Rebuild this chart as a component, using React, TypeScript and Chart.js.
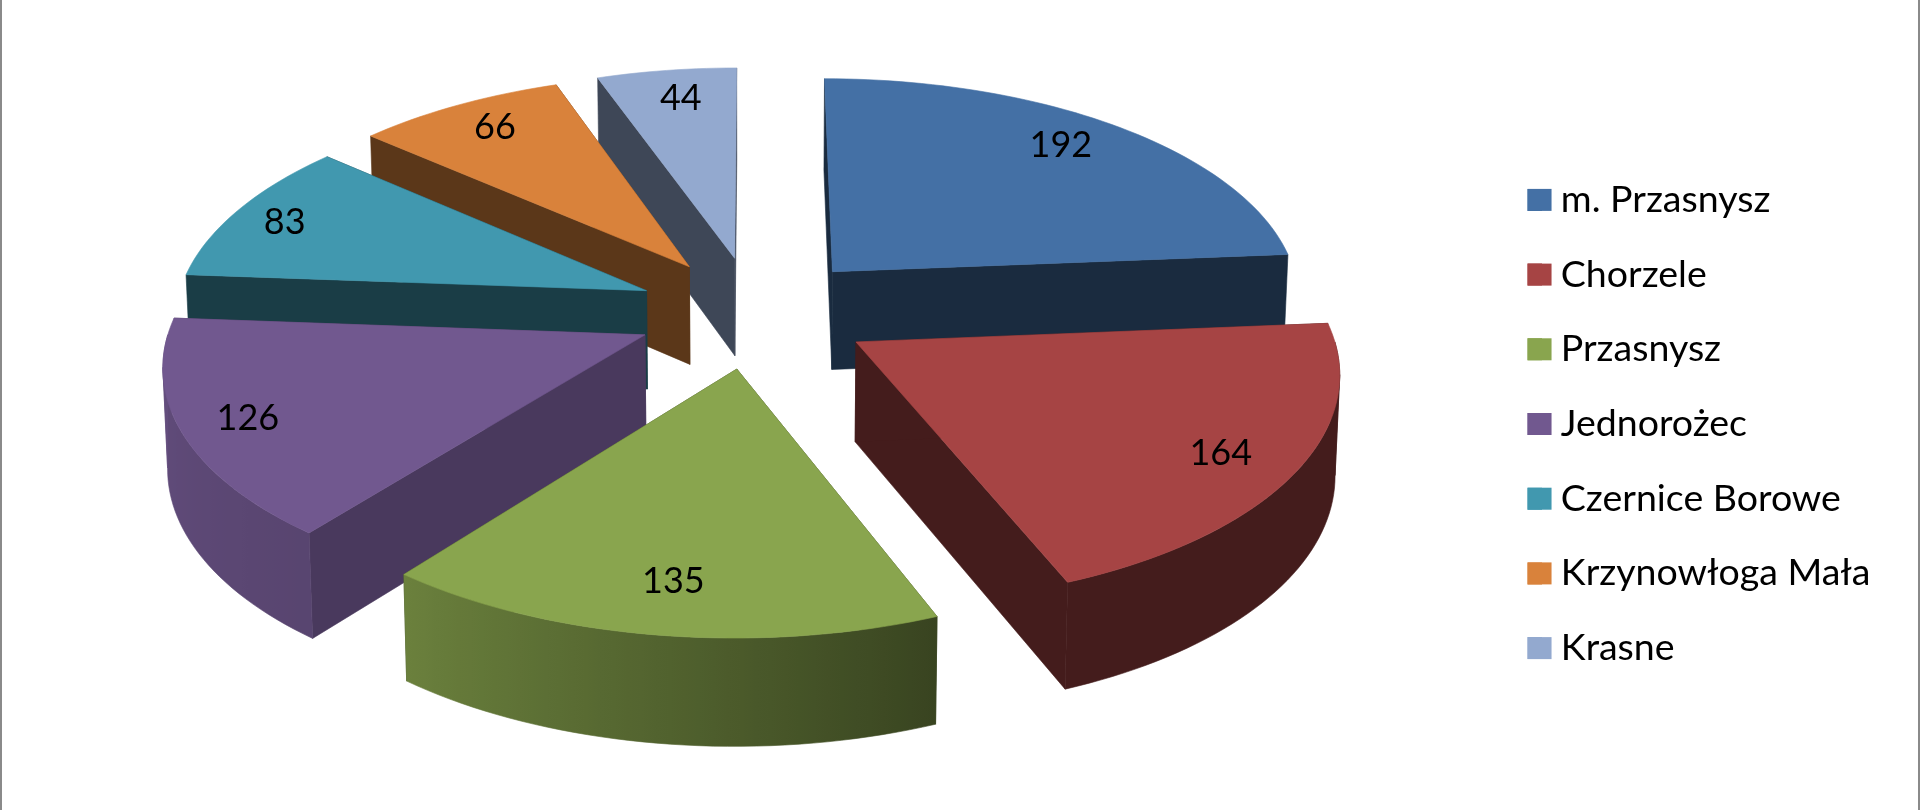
import React, { useEffect, useRef } from "react";
import { Chart, registerables } from "chart.js";

Chart.register(...registerables);

const categories = ["m. Przasnysz", "Chorzele", "Przasnysz", "Jednorożec", "Czernice Borowe", "Krzynowłoga Mała", "Krasne"];
const values = [192, 164, 135, 126, 83, 66, 44];
const colors = ["#4470A5", "#A64444", "#89A54E", "#71588F", "#4198AF", "#D9823B", "#93A9CF"];
const wallShades = [0.38, 0.41, 0.41, 0.65, 0.4, 0.42, 0.42];

const FONT = "Lato";
const LEGEND_SIZE = 37.5;
const LABEL_SIZE = 36;

const VIEW = { offX: 9, offY: -112, rx: 1.222, ry: 0.58, depth: 99, k: 0.115, explode: 0.25, labelR: 0.85 };
const SHADE_STOPS = [[0, 0.41], [85, 0.41], [158, 0.41], [188, 0.6], [218, 0.78], [274, 0.88], [360, 0.6]];
const LABEL_NUDGE = [[-15, -1], [-6, 2], [4, -9], [-6, 2], [-13, 1], [5, 0], [5, 2]];
const SILHOUETTE = 0.14;
const SWATCH = { width: 24, height: 22 };

function shadeAt(deg: number) {
  for (let i = 1; i < SHADE_STOPS.length; i++) {
    const [a0, s0] = SHADE_STOPS[i - 1];
    const [a1, s1] = SHADE_STOPS[i];
    if (deg <= a1) return s0 + ((deg - a0) / (a1 - a0)) * (s1 - s0);
  }
  return 0.5;
}

function darken(hex: string, f: number) {
  const n = parseInt(hex.slice(1), 16);
  const r = Math.round(((n >> 16) & 255) * f);
  const g = Math.round(((n >> 8) & 255) * f);
  const b = Math.round((n & 255) * f);
  return `rgb(${r},${g},${b})`;
}

const pie3d = {
  id: "pie3d",
  beforeDatasetsDraw(chart: any) {
    const ctx = chart.ctx as CanvasRenderingContext2D;
    const arcs = chart.getDatasetMeta(0).data as any[];
    const order = arcs.map((_, i) => i).sort((a, b) => {
      const ma = (arcs[a].startAngle + arcs[a].endAngle) / 2;
      const mb = (arcs[b].startAngle + arcs[b].endAngle) / 2;
      return Math.sin(ma) - Math.sin(mb);
    });

    const fillPoly = (pts: number[][], color: any) => {
      ctx.beginPath();
      pts.forEach(([x, y], i) => (i ? ctx.lineTo(x, y) : ctx.moveTo(x, y)));
      ctx.closePath();
      ctx.fillStyle = color;
      ctx.strokeStyle = color;
      ctx.lineWidth = 0.6;
      ctx.fill();
      ctx.stroke();
    };

    ctx.save();
    for (const i of order) {
      const el = arcs[i];
      const R = el.outerRadius;
      const cx = el.x + VIEW.offX;
      const cy = el.y + VIEW.offY;
      const mid = (el.startAngle + el.endAngle) / 2;
      const ou = Math.cos(mid) * VIEW.explode;
      const ov = Math.sin(mid) * VIEW.explode;
      const project = (r: number, a: number, z: number) => {
        const u = ou + r * Math.cos(a);
        const v = ov + r * Math.sin(a);
        const w = 1 - VIEW.k * v;
        return [
          cx + ((R * VIEW.rx * u) / w) * (1 - 0.008 * z),
          cy + (R * VIEW.ry * v) / w + (VIEW.depth * z) / (1 - 0.6 * VIEW.k * v),
        ];
      };
      const sweep = (from: number, to: number) => {
        const steps = Math.max(8, Math.ceil((((to - from) * 180) / Math.PI) / 1.5));
        const list: number[] = [];
        for (let s = 0; s <= steps; s++) list.push(from + ((to - from) * s) / steps);
        return list;
      };

      const wall = darken(colors[i], wallShades[i]);
      for (const a of [el.endAngle, el.startAngle]) {
        fillPoly([project(0, a, 0), project(1, a, 0), project(1, a, 1), project(0, a, 1)], wall);
      }

      const from = Math.max(el.startAngle, 0);
      const to = Math.min(el.endAngle, Math.PI);
      if (to > from) {
        const front = sweep(from, to);
        const x0 = project(1, from, 0)[0];
        const x1 = project(1, to, 0)[0];
        const grad = ctx.createLinearGradient(x0, 0, x1, 0);
        front.forEach((a) => {
          const deg = (((a + Math.PI / 2) * 180) / Math.PI + 360) % 360;
          const pos = (project(1, a, 0)[0] - x0) / (x1 - x0);
          grad.addColorStop(Math.min(1, Math.max(0, pos)), darken(colors[i], shadeAt(deg)));
        });
        // The rim folds over at the silhouette, so each side of the fold is filled on its own.
        const cuts = [from, SILHOUETTE, Math.PI - SILHOUETTE, to].filter((c) => c >= from && c <= to);
        for (let c = 0; c < cuts.length - 1; c++) {
          if (cuts[c + 1] <= cuts[c]) continue;
          const part = sweep(cuts[c], cuts[c + 1]);
          fillPoly([...part.map((a) => project(1, a, 0)), ...part.slice().reverse().map((a) => project(1, a, 1))], grad);
        }
      }
      fillPoly([project(0, el.startAngle, 0), ...sweep(el.startAngle, el.endAngle).map((a) => project(1, a, 0))], colors[i]);
    }
    ctx.fillStyle = "#000";
    ctx.font = `${LABEL_SIZE}px ${FONT}`;
    ctx.textAlign = "center";
    ctx.textBaseline = "middle";
    arcs.forEach((el, i) => {
      const R = el.outerRadius;
      const mid = (el.startAngle + el.endAngle) / 2;
      const u = (VIEW.explode + VIEW.labelR) * Math.cos(mid);
      const v = (VIEW.explode + VIEW.labelR) * Math.sin(mid);
      const w = 1 - VIEW.k * v;
      ctx.fillText(
        String(values[i]),
        el.x + VIEW.offX + (R * VIEW.rx * u) / w + LABEL_NUDGE[i][0],
        el.y + VIEW.offY + (R * VIEW.ry * v) / w + LABEL_NUDGE[i][1]
      );
    });
    ctx.fillStyle = "#8a8a8a";
    ctx.fillRect(0, 0, 2, chart.height);
    ctx.fillRect(chart.width - 2, 0, 2, chart.height);
    ctx.restore();
    return false;
  },
  // Chart.js ties the swatch-to-text gap to the font size; the swatches are widened over that gap here.
  afterDraw(chart: any) {
    const ctx = chart.ctx as CanvasRenderingContext2D;
    const boxes = chart.legend?.legendHitBoxes ?? [];
    boxes.forEach((b: any, i: number) => {
      ctx.fillStyle = colors[i];
      ctx.fillRect(b.left, b.top + b.height / 2 - SWATCH.height / 2, SWATCH.width, SWATCH.height);
    });
  },
};

export default function App() {
  const ref = useRef<HTMLCanvasElement>(null);
  useEffect(() => {
    const chart = new Chart(ref.current as HTMLCanvasElement, {
      type: "pie",
      data: {
        labels: categories,
        datasets: [{ data: values, backgroundColor: colors, borderWidth: 0 }],
      },
      options: {
        responsive: false,
        animation: false,
        layout: { padding: { top: 38, right: 39.5 } },
        plugins: {
          tooltip: { enabled: false },
          legend: {
            position: "right",
            labels: {
              color: "#000",
              boxWidth: 14.5,
              boxHeight: 22,
              padding: 37.2,
              font: { family: FONT, size: LEGEND_SIZE },
            },
          },
        },
      },
      plugins: [pie3d],
    } as any);
    return () => chart.destroy();
  }, []);
  return (
    <canvas
      ref={ref}
      width={1920}
      height={810}
      style={{ position: "absolute", left: 0, top: 0, width: 1920, height: 810, display: "block" }}
    />
  );
}
